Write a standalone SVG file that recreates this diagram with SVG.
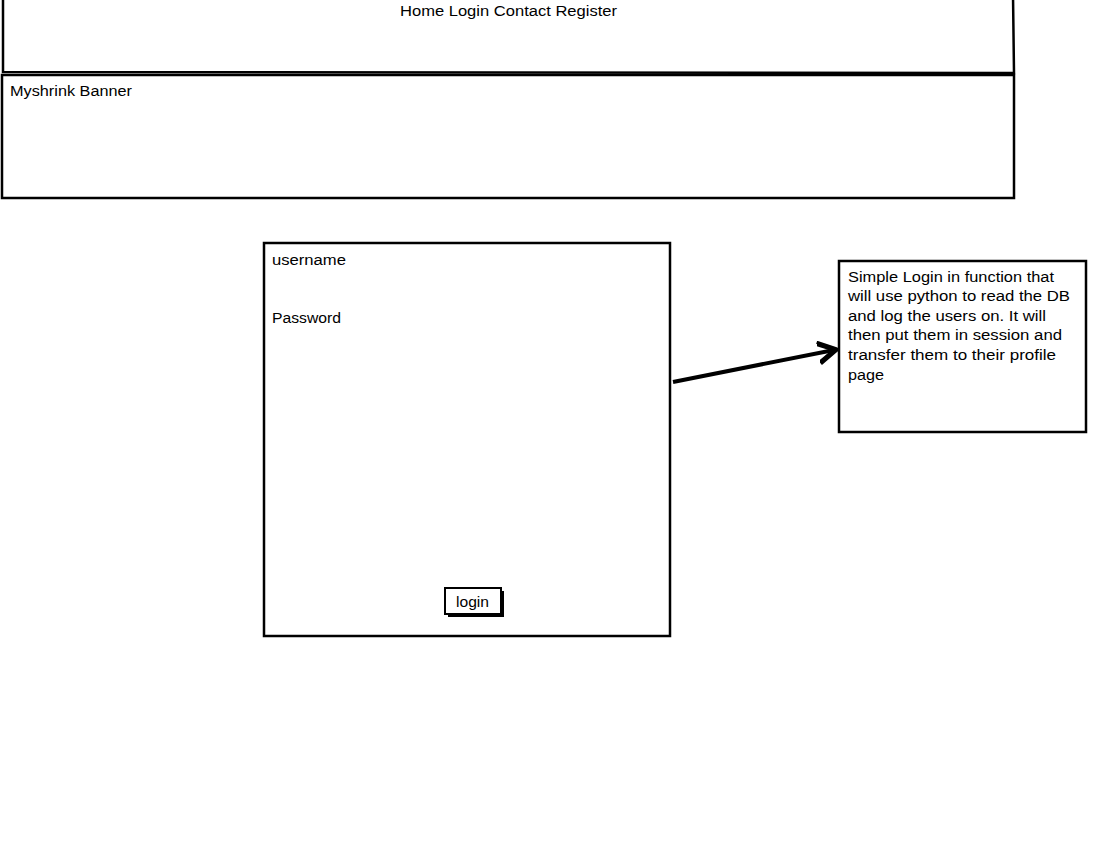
<svg xmlns="http://www.w3.org/2000/svg" width="1098" height="852" viewBox="0 0 1098 852">
<style>
.box{fill:#fff;stroke:#000;stroke-width:2.5}
.t{font-family:"Liberation Sans","DejaVu Sans",sans-serif;font-size:15.5px;fill:#000}
</style>
<defs>
<marker id="ah" markerWidth="6" markerHeight="6" refX="4" refY="3" orient="auto" markerUnits="strokeWidth">
<path d="M0,0.5 L4.5,3 L0,5.5" fill="none" stroke="#000" stroke-width="1.3" stroke-linejoin="round"/>
</marker>
</defs>
<rect width="1098" height="852" fill="#fff"/>
<g id="nav">
<path class="box" d="M3,-5 L3,72 L1014,73 L1013,-5"/>
<text class="t" x="400" y="16" textLength="217" lengthAdjust="spacingAndGlyphs">Home Login Contact Register</text>
</g>
<g id="banner">
<rect class="box" x="2" y="75" width="1012" height="123"/>
<text class="t" x="10" y="96" textLength="122" lengthAdjust="spacingAndGlyphs">Myshrink Banner</text>
</g>
<g id="loginform">
<rect class="box" x="264" y="243" width="406" height="393"/>
<text class="t" x="272" y="265" textLength="74" lengthAdjust="spacingAndGlyphs">username</text>
<text class="t" x="272" y="323" textLength="69" lengthAdjust="spacingAndGlyphs">Password</text>
</g>
<g id="loginbutton">
<rect x="448" y="591" width="56" height="26" fill="#000"/>
<rect x="445" y="588" width="56" height="26" fill="#fff" stroke="#000" stroke-width="2"/>
<text class="t" x="456" y="607" textLength="33" lengthAdjust="spacingAndGlyphs">login</text>
</g>
<g id="note">
<rect class="box" x="839" y="261" width="247" height="171"/>
<text class="t" x="848" y="282" textLength="206" lengthAdjust="spacingAndGlyphs">Simple Login in function that</text>
<text class="t" x="848" y="301" textLength="222" lengthAdjust="spacingAndGlyphs">will use python to read the DB</text>
<text class="t" x="848" y="321" textLength="198" lengthAdjust="spacingAndGlyphs">and log the users on. It will</text>
<text class="t" x="848" y="340" textLength="214" lengthAdjust="spacingAndGlyphs">then put them in session and</text>
<text class="t" x="848" y="360" textLength="208" lengthAdjust="spacingAndGlyphs">transfer them to their profile</text>
<text class="t" x="848" y="380" textLength="36" lengthAdjust="spacingAndGlyphs">page</text>
</g>
<g id="connectors">
<line x1="673" y1="382" x2="834" y2="350" stroke="#000" stroke-width="4" marker-end="url(#ah)"/>
</g>
</svg>
